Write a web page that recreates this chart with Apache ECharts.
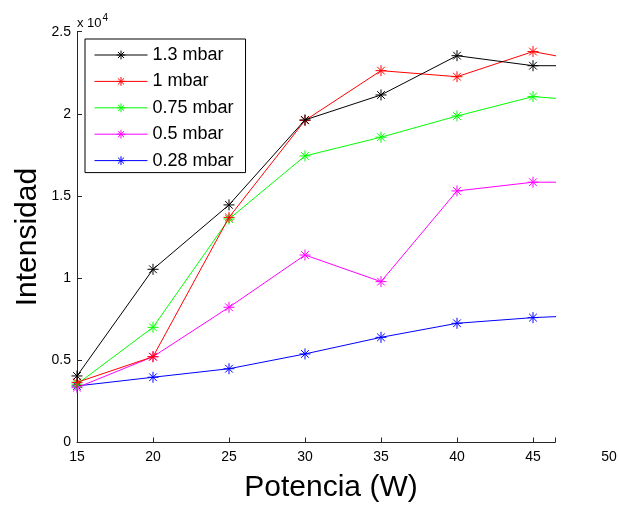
<!DOCTYPE html>
<html>
<head>
<meta charset="utf-8">
<script src="https://cdn.jsdelivr.net/npm/echarts@6/dist/echarts.min.js"></script>
<style>
html,body{margin:0;padding:0;background:#fff;}
#chart{width:619px;height:505px;}
</style>
</head>
<body>
<div id="chart"></div>
<script>
// Data (x in W, y in counts)
var potencia = [15, 20, 25, 30, 35, 40, 45, 50];
var s13  = [4050, 10540, 14460, 19630, 21150, 23540, 22930, 22930];
var s1   = [3660, 5220, 13700, 19600, 22630, 22260, 23790, 22930];
var s075 = [3550, 7010, 13600, 17440, 18580, 19870, 21050, 20700];
var s05  = [3340, 5220, 8230, 11410, 9790, 15310, 15840, 15840];
var s028 = [3440, 3970, 4490, 5390, 6400, 7255, 7600, 7800];
var names = ['1.3 mbar', '1 mbar', '0.75 mbar', '0.5 mbar', '0.28 mbar'];
var colors = ['#000000', '#ff0000', '#00ff00', '#ff00ff', '#0000ff'];
var seriesData = [s13, s1, s075, s05, s028];
var xTicks = [15, 20, 25, 30, 35, 40, 45, 50];
var yTicks = [0, 0.5, 1, 1.5, 2, 2.5];

var star = 'path://M0,-1L0,1M-1,0L1,0M-0.7,-0.7L0.7,0.7M-0.7,0.7L0.7,-0.7';
var font = 'Liberation Sans, Arial, sans-serif';

var chart = echarts.init(document.getElementById('chart'), null, {renderer: 'canvas'});
var series = names.map(function (n, i) {
  return {
    name: n,
    type: 'line',
    xAxisIndex: 0,
    yAxisIndex: 0,
    data: potencia.map(function (x, j) { return [x, seriesData[i][j]]; }),
    symbol: star,
    symbolSize: 11,
    showAllSymbol: true,
    clip: true,
    color: colors[i],
    lineStyle: {color: colors[i], width: 1},
    itemStyle: {color: 'none', borderColor: colors[i], borderWidth: 1},
    emphasis: {disabled: true},
    animation: false,
    z: 10 - i
  };
});

var axisCol = '#262626';
chart.setOption({
  animation: false,
  backgroundColor: '#fff',
  grid: [
    {left: 77, right: 64, top: 31.7, bottom: 62.5, outerBoundsMode: 'none', containLabel: false},
    {left: 77, right: 10, top: 31.7, bottom: 62.5, outerBoundsMode: 'none', containLabel: false}
  ],
  legend: {
    orient: 'vertical',
    left: 85,
    top: 39,
    data: names.map(function (n, i) {
      return {name: n, itemStyle: {color: 'none', borderColor: colors[i], borderWidth: 1},
              lineStyle: {color: colors[i], width: 1}};
    }),
    backgroundColor: '#fff',
    borderColor: '#000',
    borderWidth: 1,
    padding: [7, 12, 3, 9],
    itemWidth: 53,
    itemHeight: 11,
    itemGap: 8.4,
    textStyle: {fontFamily: font, fontSize: 18, color: '#000', lineHeight: 17},
    selectedMode: false
  },
  xAxis: [
    {
      type: 'value', gridIndex: 0, min: 15, max: 15 + 478 / 15.2, interval: 5,
      axisLine: {show: true, lineStyle: {color: axisCol, width: 1}},
      axisTick: {show: true, inside: true, length: 5, lineStyle: {color: axisCol}},
      axisLabel: {show: false},
      splitLine: {show: false},
      name: 'Potencia (W)',
      nameLocation: 'middle',
      nameGap: 30,
      nameTextStyle: {fontFamily: font, fontSize: 30, color: '#000', padding: [0, 0, 0, 30]}
    },
    {
      type: 'value', gridIndex: 1, min: 15, max: 50, interval: 5,
      axisLine: {show: false},
      axisTick: {show: false},
      axisLabel: {show: true, color: '#000', fontFamily: font, fontSize: 14, margin: 8,
        formatter: function (v) { return xTicks.indexOf(v) >= 0 ? String(v) : ''; }},
      splitLine: {show: false}
    }
  ],
  yAxis: [
    {
      type: 'value', gridIndex: 0, min: 0, max: 25000, interval: 5000,
      axisLine: {show: true, lineStyle: {color: axisCol, width: 1}},
      axisTick: {show: true, inside: true, length: 5, lineStyle: {color: axisCol}},
      axisLabel: {show: true, color: '#000', fontFamily: font, fontSize: 14, margin: 6,
        formatter: function (v) { return String(yTicks[Math.round(v / 5000)]); }},
      splitLine: {show: false},
      name: '{a|x 10}{b|4}',
      nameLocation: 'end',
      nameGap: 2,
      nameTextStyle: {align: 'left', verticalAlign: 'bottom', padding: [0, 0, 0, 0],
        rich: {
          a: {fontFamily: font, fontSize: 13, color: '#000', verticalAlign: 'bottom', padding: [0, 0, 0, 0]},
          b: {fontFamily: font, fontSize: 10, color: '#000', verticalAlign: 'top', padding: [0, 0, 6, 1]}
        }}
    },
    {
      type: 'value', gridIndex: 1, min: 0, max: 25000,
      axisLine: {show: false}, axisTick: {show: false}, axisLabel: {show: false}, splitLine: {show: false},
      name: 'Intensidad', nameLocation: 'middle', nameGap: 34,
      nameTextStyle: {fontFamily: font, fontSize: 30, color: '#000'}
    }
  ],
  series: series
});
</script>
</body>
</html>
